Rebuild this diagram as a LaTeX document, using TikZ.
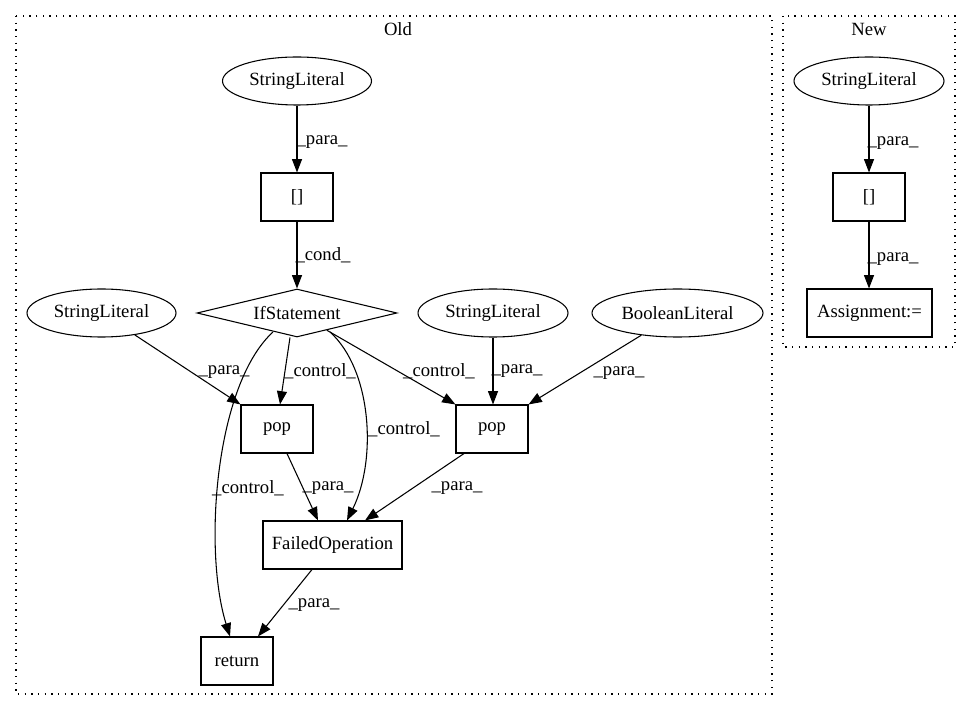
\documentclass[tikz,border=0pt]{standalone}
\usepackage{fontspec}
\setmainfont{Liberation Serif}
\usetikzlibrary{shapes.geometric,arrows.meta,calc}
\begin{document}
\begin{tikzpicture}[x=0.75pt,y=-0.75pt,
  every node/.style={font=\fontsize{14pt}{16pt}\selectfont, inner sep=0pt},
  lit/.style={draw, ellipse, line width=0.8pt, minimum height=36pt},
  stmt/.style={draw, rectangle, line width=0.8pt, minimum height=36pt, minimum width=54pt},
  cond/.style={draw, diamond, line width=0.8pt, minimum width=150pt, minimum height=36pt, aspect=4.2},
  edge/.style={draw, line width=0.8pt, -{Triangle[length=10pt,width=7.5pt]}},
  lbl/.style={},
  cluster/.style={draw, line width=0.8pt, dash pattern=on 1pt off 4pt}]
\useasboundingbox (0,0) rectangle (971,712);
% clusters
\draw[cluster] (16,16) rectangle (772,694);
\draw[cluster] (783,16) rectangle (955,347);
\node (oldt) at (398,29) {Old};
\node (newt) at (869,29) {New};
% Old nodes
\node[lit, minimum width=111.75pt] (sl1) at (297,81) {StringLiteral};
\node[stmt] (b1) at (297,197) {[]};
\node[cond] (if) at (297,313) {IfStatement};
\node[lit, minimum width=111.75pt] (sl2) at (101.5,313) {StringLiteral};
\node[lit, minimum width=112.5pt] (sl3) at (493,313) {StringLiteral};
\node[lit, minimum width=128.25pt] (bl) at (677.5,313) {BooleanLiteral};
\node[stmt] (pop1) at (277,429) {pop};
\node[stmt] (pop2) at (492,429) {pop};
\node[stmt, minimum width=104.25pt] (fo) at (332.5,545) {FailedOperation};
\node[stmt] (ret) at (237,661) {return};
% New nodes
\node[lit, minimum width=112.5pt] (sl4) at (869,81) {StringLiteral};
\node[stmt] (b2) at (869,197) {[]};
\node[stmt, minimum width=93.75pt] (asg) at (869.5,313) {Assignment:=};
% Old edges
\draw[edge] (sl1) -- (b1) node[lbl] at (322,142) {\_para\_};
\draw[edge] (b1) -- (if) node[lbl] at (323,255) {\_cond\_};
\draw[edge] (sl2) -- (pop1.north west) node[lbl] at (224,372) {\_para\_};
\draw[edge] ($(if.south)+(-7,0)$) -- ($(pop1.north)+(3,0)$) node[lbl] at (320,371) {\_control\_};
\draw[edge] (if) -- (pop2.north west) node[lbl] at (439,371) {\_control\_};
\draw[edge] (sl3) -- ($(pop2.north)+(1,0)$) node[lbl] at (517,371) {\_para\_};
\draw[edge] (bl) -- (pop2.north east) node[lbl] at (619,373) {\_para\_};
\draw[edge] ($(if)+(-24,19)$) .. controls (215,385) and (203,550) .. ($(ret.north)+(-7,0)$);
\node[lbl] (lc1) at (248,488) {\_control\_};
\draw[edge] ($(if)+(33,19)$) .. controls (372,370) and (377,460) .. ($(fo.north)+(14.5,0)$);
\node[lbl] (lc2) at (404,429) {\_control\_};
\draw[edge] ($(pop1.south)+(10,0)$) -- ($(fo.north)+(-14.5,0)$) node[lbl] at (328,488) {\_para\_};
\draw[edge] ($(pop2.south)+(-28,0)$) -- ($(fo.north)+(32.5,0)$) node[lbl] at (457,488) {\_para\_};
\draw[edge] ($(fo.south)+(-20.5,0)$) -- ($(ret.north)+(21,0)$) node[lbl] at (314,605) {\_para\_};
% New edges
\draw[edge] (sl4) -- (b2) node[lbl] at (893,143) {\_para\_};
\draw[edge] (b2) -- (asg.north -| b2) node[lbl] at (893,259) {\_para\_};
\end{tikzpicture}
\end{document}
